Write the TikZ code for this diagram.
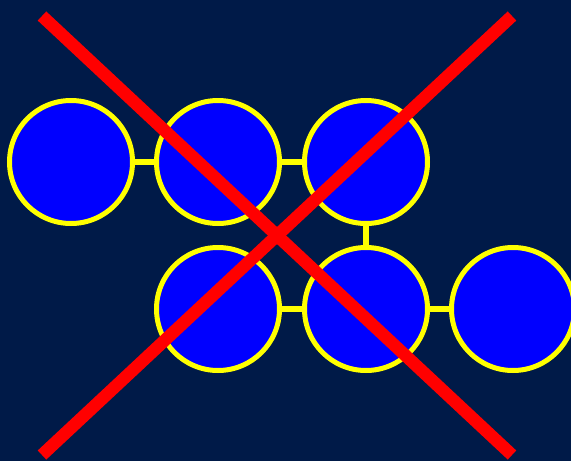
\documentclass[tikz,border=0pt]{standalone}
\definecolor{bg}{RGB}{0,26,72}
\definecolor{ylw}{RGB}{255,255,0}
\definecolor{blu}{RGB}{0,0,255}
\definecolor{rd}{RGB}{255,0,0}
\begin{document}
\begin{tikzpicture}[x=1pt,y=-1pt,
  ball/.style={circle,draw=ylw,fill=blu,line width=5pt,minimum size=123pt,inner sep=0pt},
  link/.style={draw=ylw,line width=6pt},
  cross/.style={draw=rd,line width=12.5pt}]
\fill[bg] (0,0) rectangle (571,461);
\useasboundingbox (0,0) rectangle (571,461);
\begin{scope}
\clip (0,0) rectangle (571,461);
\node[ball] (a) at (71,162) {};
\node[ball] (b) at (218,162) {};
\node[ball] (c) at (366,162) {};
\node[ball] (d) at (218,309) {};
\node[ball] (e) at (366,309) {};
\node[ball] (f) at (513,309) {};
\end{scope}
\draw[link] (a) -- (b);
\draw[link] (b) -- (c);
\draw[link] (c) -- (e);
\draw[link] (d) -- (e);
\draw[link] (e) -- (f);
\coordinate (p1) at (42,16);
\coordinate (p2) at (512,455);
\coordinate (p3) at (42,455);
\coordinate (p4) at (512,16);
\draw[cross] (p1) -- (p2);
\draw[cross] (p3) -- (p4);
\end{tikzpicture}
\end{document}
